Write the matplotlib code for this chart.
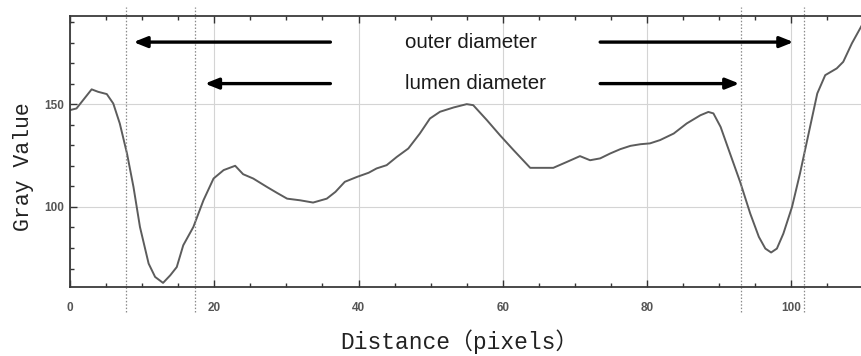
import matplotlib.pyplot as plt
from matplotlib.ticker import MultipleLocator, FixedLocator

# profile (distance in pixels, gray value)
distance = [0, 0.9, 3.0, 3.9, 5.1, 6.0, 6.9, 7.9, 8.8, 9.7, 10.9, 11.8, 12.9,
            13.9, 14.8, 15.7, 17.1, 18.5, 19.9, 21.3, 22.9, 24.0, 25.4, 27.3,
            28.7, 30.1, 31.9, 33.7, 35.6, 36.8, 38.1, 39.8, 41.4, 42.5, 43.9,
            45.3, 46.9, 48.5, 49.9, 51.3, 53.2, 55.0, 55.9, 57.8, 59.6, 61.5,
            63.8, 67.0, 68.9, 70.7, 72.1, 73.5, 74.9, 76.3, 77.7, 79.1, 80.4,
            81.8, 83.7, 85.5, 87.4, 88.5, 89.2, 90.2, 91.5, 92.9, 94.3, 95.5,
            96.4, 97.2, 98.0, 98.9, 100.1, 101.2, 102.4, 103.6, 104.7, 106.3,
            107.2, 108.4, 109.8]
gray = [147.1, 147.9, 157.2, 156.0, 154.9, 150.3, 140.6, 126.0, 109.7, 90.2,
        72.4, 65.9, 63.0, 66.7, 70.7, 81.3, 90.2, 103.2, 113.8, 117.9, 120.0,
        115.9, 113.8, 109.7, 106.8, 104.0, 103.2, 102.1, 104.0, 107.3, 112.2,
        114.6, 116.6, 118.7, 120.3, 124.3, 128.4, 135.7, 143.0, 146.3, 148.4,
        150.0, 149.5, 142.2, 134.9, 127.6, 119.0, 119.0, 121.9, 124.7, 122.7,
        123.6, 126.0, 128.1, 129.7, 130.5, 130.9, 132.5, 135.7, 140.6, 144.6,
        146.2, 145.5, 138.9, 126.0, 112.2, 96.8, 85.4, 79.7, 77.8, 79.7, 87.0,
        100.0, 116.2, 135.7, 155.2, 164.1, 167.4, 170.6, 179.6, 188.5]

dotted_x = [7.7, 17.3, 93.0, 101.8]

# arrows: label, height, where the left / right arrow heads end
arrow_labels = ["outer diameter", "lumen diameter"]
arrow_y = [180.2, 160.0]
left_tips = [8.8, 18.7]
right_tips = [100.3, 92.8]
left_tail = 36.1
right_tail = 73.5
label_x = 46.5

xticks = [0, 20, 40, 60, 80, 100]
yticks = [100, 150]

plt.rcParams['font.family'] = ['Liberation Sans', 'DejaVu Sans']

fig = plt.figure(figsize=(8.62, 3.56), dpi=100)
ax = fig.add_axes([70/862, 1-287/356, 1-70/862, 271/356])

ax.set_xlim(0, 109.8)
ax.set_ylim(61, 192.9)

ax.grid(True, which='major', color='#d4d4d4', lw=0.8)
ax.set_axisbelow(True)

ax.plot(distance, gray, color='#5c5c5c', lw=1.4)

for xv in dotted_x:
    ax.axvline(xv, ymin=-0.092, ymax=1.033, color='#8a8a8a', ls=(0, (1.2, 1.5)),
               lw=0.9, clip_on=False)

for i, lab in enumerate(arrow_labels):
    y = arrow_y[i]
    for tail, tip in [(left_tail, left_tips[i]), (right_tail, right_tips[i])]:
        ax.annotate('', xy=(tip, y), xytext=(tail, y),
                    arrowprops=dict(arrowstyle='-|>,head_length=0.8,head_width=0.32',
                                    mutation_scale=10, lw=2.4, color='black',
                                    shrinkA=0, shrinkB=0))
    ax.text(label_x, y, lab, fontsize=14.8, color='#1a1a1a', va='center', ha='left')

ax.xaxis.set_major_locator(FixedLocator(xticks))
ax.xaxis.set_minor_locator(MultipleLocator(5))
ax.yaxis.set_major_locator(FixedLocator(yticks))
ax.yaxis.set_minor_locator(MultipleLocator(10))
ax.tick_params(which='both', direction='in', top=True, right=False, color='#333333')
ax.tick_params(which='major', length=5, width=1.0)
ax.tick_params(which='minor', length=3, width=1.0)
ax.tick_params(axis='x', pad=11, labelsize=8.5, labelcolor='#555555')
ax.tick_params(axis='y', pad=4, labelsize=8.5, labelcolor='#555555')
for t in ax.get_xticklabels() + ax.get_yticklabels():
    t.set_fontweight('bold')

for side in ['left', 'bottom', 'top']:
    ax.spines[side].set_color('#3a3a3a')
    ax.spines[side].set_linewidth(1.3)
ax.spines['right'].set_visible(False)

lab_font = ['Liberation Mono', 'Noto Sans CJK SC']
ax.set_xlabel('Distance（pixels）', family=lab_font, fontsize=16.5, color='#222222')
ax.set_ylabel('Gray Value', family=lab_font, fontsize=15.5, color='#222222')
ax.xaxis.set_label_coords(0.492, -0.203)
ax.yaxis.set_label_coords(-0.059, 0.446)
ax.xaxis.label.set_va('center')
ax.yaxis.label.set_va('center')

fig.savefig('out.png', dpi=100)
